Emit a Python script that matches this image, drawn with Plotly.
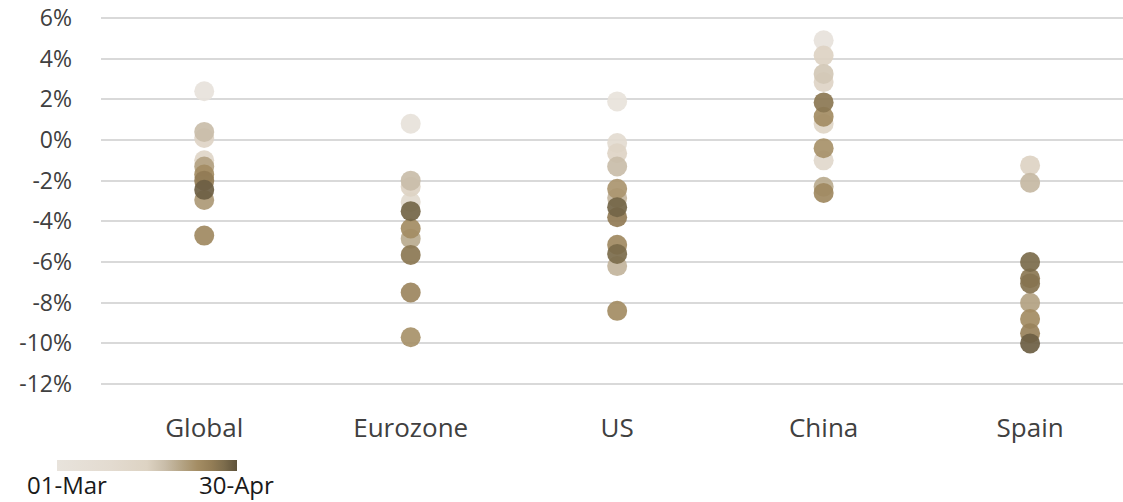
import plotly.graph_objects as go
import pandas as pd

categories = ["Global", "Eurozone", "US", "China", "Spain"]

# values in %, and day offset from 01-Mar (0) to 30-Apr (60) for each observation
global_vals = [2.4, 0.4, 0.1, -1.0, -1.3, -1.7, -2.0, -2.45, -2.95, -4.7]
global_days = [2, 36, 28, 25, 42, 47, 52, 58, 44, 48]

eurozone_vals = [0.8, -2.0, -2.3, -3.05, -3.5, -4.35, -4.85, -5.65, -7.5, -9.7]
eurozone_days = [3, 36, 30, 20, 57, 47, 40, 53, 49, 46]

us_vals = [1.9, -0.15, -0.65, -1.3, -2.4, -2.85, -3.3, -3.8, -5.15, -5.6, -6.2, -8.4]
us_days = [1, 18, 28, 36, 45, 38, 57, 52, 48, 56, 38, 47]

china_vals = [4.9, 4.15, 3.25, 2.85, 1.85, 1.15, 0.8, -0.4, -1.0, -2.3, -2.6]
china_days = [2, 30, 33, 28, 53, 47, 26, 46, 22, 40, 48]

spain_vals = [-1.25, -2.1, -6.0, -6.8, -7.05, -8.0, -8.8, -9.5, -10.0]
spain_days = [30, 37, 56, 53, 54, 42, 47, 50, 58]

y_ticks = [-12, -10, -8, -6, -4, -2, 0, 2, 4, 6]
y_labels = ["-12%", "-10%", "-8%", "-6%", "-4%", "-2%", "0%", "2%", "4%", "6%"]
date_labels = ["01-Mar", "30-Apr"]

colorscale = [
    [0.0, "#e8e3dc"], [0.3, "#e3dbd0"], [0.5, "#ddd3c3"], [0.6, "#c9bda9"],
    [0.7, "#b3a282"], [0.78, "#a48d64"], [0.86, "#937d56"], [0.93, "#7c6c4c"],
    [1.0, "#5e523a"],
]

rows = []
for cat, vals, days in zip(
    categories,
    [global_vals, eurozone_vals, us_vals, china_vals, spain_vals],
    [global_days, eurozone_days, us_days, china_days, spain_days],
):
    for v, d in zip(vals, days):
        rows.append({"cat": cat, "val": v, "day": d})
df = pd.DataFrame(rows).sort_values("day", kind="stable")

FONT = "Open Sans"
TXT = "#404040"

fig = go.Figure(
    go.Scatter(
        x=df["cat"], y=df["val"], mode="markers",
        marker=dict(
            size=20, color=df["day"], colorscale=colorscale, cmin=0, cmax=60,
            opacity=0.92, line=dict(width=0),
            colorbar=dict(
                orientation="h", lenmode="pixels", len=180, thickness=11,
                x=-0.043, xanchor="left", y=-0.1358, yanchor="top",
                xpad=0, ypad=0, outlinewidth=0,
                showticklabels=False, ticks="",
            ),
        ),
        hoverinfo="skip",
    )
)

# legend end labels
for lbl, xp in zip(date_labels, [-0.0333, 0.1326]):
    fig.add_annotation(
        text=lbl, xref="paper", yref="paper", x=xp, y=-0.1975,
        xanchor="center", yanchor="middle", showarrow=False, borderpad=0,
        font=dict(family=FONT, size=24, color="#1a1a1a"),
    )

fig.update_layout(
    width=1123, height=502,
    margin=dict(l=101, r=0, t=0, b=97),
    paper_bgcolor="white", plot_bgcolor="white",
    showlegend=False,
    font=dict(family=FONT, color=TXT),
)
fig.update_xaxes(
    type="category", categoryorder="array", categoryarray=categories,
    range=[-0.5, 4.45], showgrid=False, zeroline=False, showline=False,
    tickfont=dict(family=FONT, size=26, color=TXT), ticklabelstandoff=5,
)
fig.update_yaxes(
    range=[-13.03, 6.885], tickvals=y_ticks, ticktext=y_labels,
    showgrid=True, gridcolor="#d9d9d9", gridwidth=2, zeroline=False,
    showline=False, tickfont=dict(family=FONT, size=23, color=TXT),
    ticklabelstandoff=28,
)

fig.write_html("out.html")
